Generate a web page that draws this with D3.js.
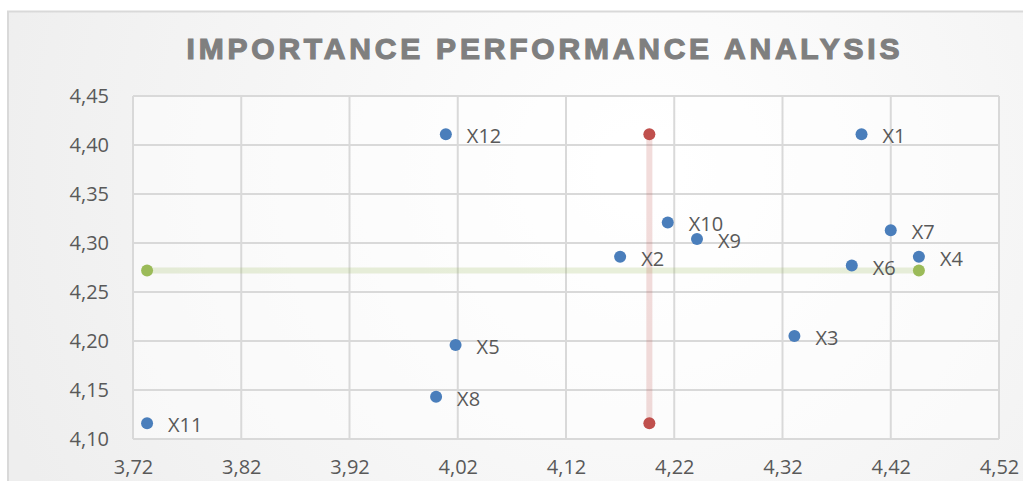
<!DOCTYPE html>
<html>
<head>
<meta charset="utf-8">
<script src="https://cdn.jsdelivr.net/npm/d3@7"></script>
<style>
  html, body { margin: 0; padding: 0; background: #ffffff; }
  svg { display: block; }
</style>
</head>
<body>
<svg id="chart" width="1023" height="481"></svg>
<script>
// Attribute names and their (performance, importance) means
const labels = ["X1", "X2", "X3", "X4", "X5", "X6", "X7", "X8", "X9", "X10", "X11", "X12"];
const xValues = [4.393, 4.170, 4.331, 4.446, 4.018, 4.384, 4.420, 4.000, 4.241, 4.214, 3.733, 4.009];
const yValues = [4.411, 4.286, 4.205, 4.286, 4.196, 4.277, 4.313, 4.143, 4.304, 4.321, 4.116, 4.411];

// Quadrant dividers: mean of importance (horizontal) and mean of performance (vertical)
const hLineX = [3.733, 4.446];
const hLineY = [4.272, 4.272];
const vLineX = [4.197, 4.197];
const vLineY = [4.116, 4.411];

// Axis ticks
const xTicks = [3.72, 3.82, 3.92, 4.02, 4.12, 4.22, 4.32, 4.42, 4.52];
const yTicks = [4.10, 4.15, 4.20, 4.25, 4.30, 4.35, 4.40, 4.45];

const titleText = "IMPORTANCE PERFORMANCE ANALYSIS";

const W = 1023, H = 481;
const plot = { left: 133, right: 999, top: 96, bottom: 439 };

const svg = d3.select("#chart");
const defs = svg.append("defs");

const bg = defs.append("radialGradient")
  .attr("id", "bgGrad")
  .attr("gradientUnits", "userSpaceOnUse")
  .attr("cx", 640).attr("cy", 170).attr("r", 680);
bg.append("stop").attr("offset", "0%").attr("stop-color", "#ffffff");
bg.append("stop").attr("offset", "100%").attr("stop-color", "#eeeeee");

// Chart area
svg.append("rect").attr("x", 0).attr("y", 0).attr("width", W).attr("height", H).attr("fill", "#ffffff");
svg.append("rect")
  .attr("x", 8).attr("y", 11.5).attr("width", W + 10).attr("height", H + 10)
  .attr("fill", "url(#bgGrad)")
  .attr("stroke", "#d9d9d9").attr("stroke-width", 2);

// Plot area wash
svg.append("rect")
  .attr("x", plot.left).attr("y", plot.top)
  .attr("width", plot.right - plot.left).attr("height", plot.bottom - plot.top)
  .attr("fill", "#ffffff").attr("fill-opacity", 0.5);

const x = d3.scaleLinear().domain([3.72, 4.52]).range([plot.left, plot.right]);
const y = d3.scaleLinear().domain([4.10, 4.45]).range([plot.bottom, plot.top]);

const fmt = v => d3.format(".2f")(v).replace(".", ",");

// Gridlines
const grid = svg.append("g").attr("stroke", "#d9d9d9").attr("stroke-width", 2);
grid.selectAll("line.v").data(xTicks).join("line")
  .attr("class", "v")
  .attr("x1", d => x(d)).attr("x2", d => x(d))
  .attr("y1", plot.top).attr("y2", plot.bottom);
grid.selectAll("line.h").data(yTicks).join("line")
  .attr("class", "h")
  .attr("x1", plot.left).attr("x2", plot.right)
  .attr("y1", d => y(d)).attr("y2", d => y(d));

// Axes (labels only, domain lines come from the grid)
const axisFont = "'Open Sans', 'Liberation Sans', sans-serif";
const yAxis = svg.append("g")
  .attr("transform", `translate(${plot.left},0)`)
  .call(d3.axisLeft(y).tickValues(yTicks).tickFormat(fmt).tickSize(0).tickPadding(24));
const xAxis = svg.append("g")
  .attr("transform", `translate(0,${plot.bottom})`)
  .call(d3.axisBottom(x).tickValues(xTicks).tickFormat(fmt).tickSize(0).tickPadding(21));
[yAxis, xAxis].forEach(a => {
  a.select(".domain").remove();
  a.selectAll("text")
    .attr("fill", "#595959")
    .style("font-family", axisFont)
    .style("font-size", "20px");
});

// Quadrant divider lines with end markers
const lineGen = d3.line().x(d => x(d[0])).y(d => y(d[1]));
const hPts = d3.zip(hLineX, hLineY);
const vPts = d3.zip(vLineX, vLineY);

svg.append("path").datum(hPts)
  .attr("d", lineGen).attr("fill", "none")
  .attr("stroke", "#9bbb59").attr("stroke-opacity", 0.22).attr("stroke-width", 6);
svg.append("path").datum(vPts)
  .attr("d", lineGen).attr("fill", "none")
  .attr("stroke", "#c0504d").attr("stroke-opacity", 0.2).attr("stroke-width", 6);

svg.selectAll("circle.h").data(hPts).join("circle")
  .attr("class", "h")
  .attr("cx", d => x(d[0])).attr("cy", d => y(d[1])).attr("r", 6)
  .attr("fill", "#9bbb59");
svg.selectAll("circle.v").data(vPts).join("circle")
  .attr("class", "v")
  .attr("cx", d => x(d[0])).attr("cy", d => y(d[1])).attr("r", 6)
  .attr("fill", "#c0504d");

// Attribute points
const pts = labels.map((l, i) => ({ label: l, x: xValues[i], y: yValues[i] }));
svg.selectAll("circle.pt").data(pts).join("circle")
  .attr("class", "pt")
  .attr("cx", d => x(d.x)).attr("cy", d => y(d.y)).attr("r", 6)
  .attr("fill", "#4a7ebb");
svg.selectAll("text.pt").data(pts).join("text")
  .attr("class", "pt")
  .attr("x", d => x(d.x) + 21)
  .attr("y", d => y(d.y) + 2)
  .attr("dy", "0.35em")
  .attr("fill", "#595959")
  .style("font-family", axisFont)
  .style("font-size", "20px")
  .text(d => d.label);

// Title
svg.append("text")
  .attr("x", 186.5).attr("y", 58.5)
  .attr("textLength", 713).attr("lengthAdjust", "spacing")
  .attr("fill", "#7f7f7f")
  .attr("stroke", "#7f7f7f").attr("stroke-width", 1.2)
  .style("font-family", "'Liberation Sans', Arial, sans-serif")
  .style("font-weight", "bold")
  .style("font-size", "30px")
  .text(titleText);
</script>
</body>
</html>
